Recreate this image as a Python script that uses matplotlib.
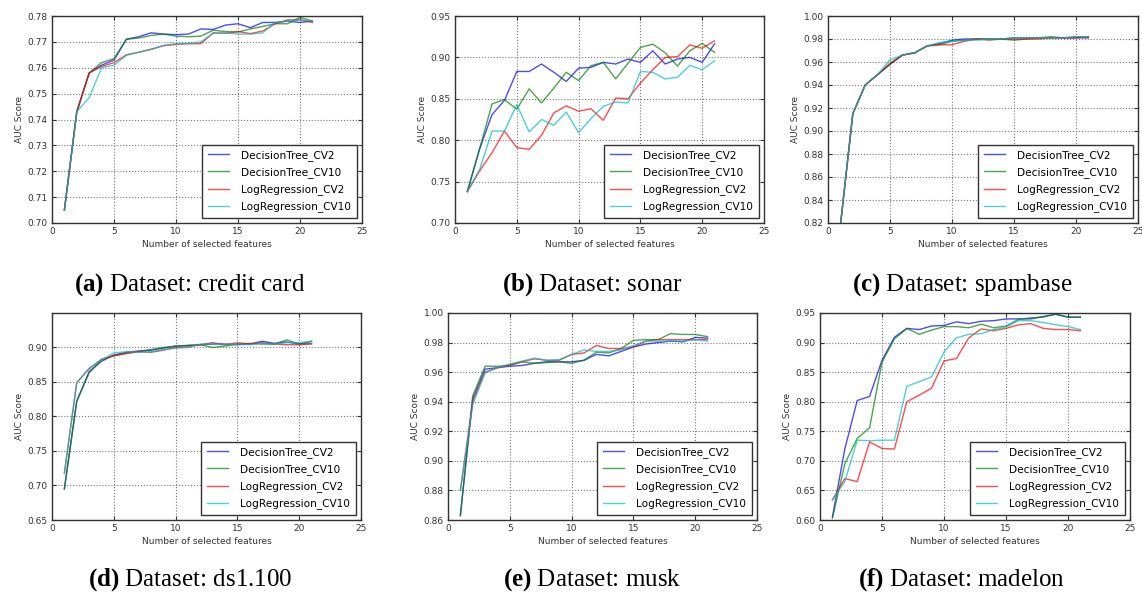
import matplotlib
matplotlib.use("Agg")
import matplotlib.pyplot as plt

x = list(range(1, 22))
series_names = ["DecisionTree_CV2", "DecisionTree_CV10", "LogRegression_CV2", "LogRegression_CV10"]

# (a) credit card
credit_dt2 = [0.705, 0.743, 0.758, 0.761, 0.763, 0.771, 0.772, 0.7735, 0.773, 0.7728, 0.773,
              0.775, 0.7748, 0.7765, 0.777, 0.7755, 0.7775, 0.7775, 0.778, 0.7775, 0.778]
credit_dt10 = [0.705, 0.743, 0.758, 0.762, 0.7635, 0.771, 0.7715, 0.7725, 0.773, 0.7722, 0.772,
               0.7722, 0.7745, 0.774, 0.7738, 0.775, 0.776, 0.777, 0.777, 0.7795, 0.778]
credit_lr2 = [0.705, 0.743, 0.758, 0.7605, 0.762, 0.765, 0.766, 0.7672, 0.7685, 0.769, 0.7693,
              0.7693, 0.7735, 0.7733, 0.774, 0.7732, 0.7742, 0.777, 0.7785, 0.7785, 0.7775]
credit_lr10 = [0.705, 0.743, 0.7485, 0.760, 0.761, 0.7648, 0.766, 0.767, 0.7687, 0.7693, 0.7695,
               0.770, 0.7733, 0.7735, 0.773, 0.773, 0.7735, 0.7775, 0.778, 0.7785, 0.778]

# (b) sonar
sonar_dt2 = [0.738, 0.79, 0.831, 0.848, 0.883, 0.883, 0.892, 0.882, 0.871, 0.887, 0.888,
             0.894, 0.892, 0.898, 0.894, 0.908, 0.892, 0.898, 0.900, 0.894, 0.9165]
sonar_dt10 = [0.738, 0.79, 0.844, 0.849, 0.8375, 0.862, 0.845, 0.863, 0.882, 0.872, 0.890,
              0.894, 0.874, 0.893, 0.912, 0.916, 0.9056, 0.8895, 0.908, 0.917, 0.906]
sonar_lr2 = [0.738, 0.763, 0.785, 0.811, 0.791, 0.789, 0.806, 0.833, 0.8415, 0.835, 0.838,
             0.824, 0.851, 0.850, 0.869, 0.885, 0.900, 0.901, 0.915, 0.911, 0.920]
sonar_lr10 = [0.738, 0.765, 0.811, 0.811, 0.843, 0.810, 0.825, 0.818, 0.834, 0.809, 0.826,
              0.841, 0.846, 0.845, 0.883, 0.882, 0.874, 0.876, 0.8905, 0.885, 0.896]

# (c) spambase
spam_dt2 = [0.818, 0.915, 0.940, 0.949, 0.958, 0.966, 0.968, 0.974, 0.976, 0.979, 0.980,
            0.980, 0.980, 0.980, 0.981, 0.981, 0.981, 0.981, 0.981, 0.981, 0.981]
spam_dt10 = [0.818, 0.915, 0.940, 0.949, 0.958, 0.966, 0.968, 0.974, 0.975, 0.978, 0.979,
             0.980, 0.980, 0.980, 0.979, 0.980, 0.981, 0.982, 0.981, 0.982, 0.982]
spam_lr2 = [0.818, 0.915, 0.940, 0.949, 0.959, 0.966, 0.968, 0.974, 0.975, 0.975, 0.978,
            0.980, 0.979, 0.980, 0.980, 0.980, 0.980, 0.981, 0.981, 0.981, 0.982]
spam_lr10 = [0.818, 0.915, 0.940, 0.949, 0.962, 0.966, 0.968, 0.974, 0.977, 0.978, 0.979,
             0.979, 0.980, 0.980, 0.981, 0.981, 0.981, 0.981, 0.981, 0.982, 0.982]

# (d) ds1.100
ds1_dt2 = [0.695, 0.822, 0.865, 0.880, 0.889, 0.893, 0.895, 0.896, 0.899, 0.902, 0.903,
           0.904, 0.905, 0.905, 0.904, 0.905, 0.909, 0.906, 0.908, 0.905, 0.909]
ds1_dt10 = [0.695, 0.822, 0.863, 0.882, 0.888, 0.892, 0.894, 0.897, 0.900, 0.902, 0.903,
            0.904, 0.900, 0.902, 0.905, 0.906, 0.905, 0.905, 0.911, 0.905, 0.906]
ds1_lr2 = [0.718, 0.849, 0.869, 0.883, 0.888, 0.891, 0.894, 0.893, 0.896, 0.900, 0.901,
           0.904, 0.907, 0.904, 0.907, 0.905, 0.907, 0.905, 0.904, 0.904, 0.905]
ds1_lr10 = [0.718, 0.849, 0.870, 0.882, 0.892, 0.894, 0.893, 0.894, 0.897, 0.899, 0.900,
            0.905, 0.905, 0.904, 0.905, 0.904, 0.906, 0.905, 0.907, 0.907, 0.909]

# (e) musk
musk_dt2 = [0.863, 0.942, 0.962, 0.963, 0.964, 0.9645, 0.966, 0.967, 0.967, 0.967, 0.968,
            0.972, 0.971, 0.974, 0.977, 0.979, 0.980, 0.981, 0.9805, 0.9835, 0.983]
musk_dt10 = [0.863, 0.944, 0.964, 0.964, 0.9645, 0.967, 0.966, 0.9665, 0.967, 0.966, 0.968,
             0.9735, 0.973, 0.976, 0.9815, 0.982, 0.982, 0.986, 0.9855, 0.9855, 0.984]
musk_lr2 = [0.880, 0.940, 0.960, 0.963, 0.965, 0.967, 0.969, 0.968, 0.968, 0.972, 0.973,
            0.978, 0.976, 0.976, 0.977, 0.981, 0.982, 0.982, 0.982, 0.982, 0.982]
musk_lr10 = [0.880, 0.938, 0.9595, 0.963, 0.9655, 0.9675, 0.9695, 0.968, 0.9685, 0.972, 0.975,
             0.974, 0.974, 0.975, 0.978, 0.981, 0.981, 0.981, 0.981, 0.982, 0.981]

# (f) madelon
mad_dt2 = [0.605, 0.720, 0.802, 0.809, 0.870, 0.909, 0.924, 0.922, 0.928, 0.929, 0.935,
           0.932, 0.936, 0.937, 0.940, 0.940, 0.940, 0.944, 0.948, 0.943, 0.943]
mad_dt10 = [0.603, 0.695, 0.738, 0.756, 0.867, 0.906, 0.924, 0.914, 0.921, 0.927, 0.927,
            0.925, 0.931, 0.925, 0.928, 0.939, 0.942, 0.943, 0.948, 0.943, 0.943]
mad_lr2 = [0.634, 0.670, 0.665, 0.732, 0.721, 0.720, 0.800, 0.811, 0.823, 0.869, 0.873,
           0.908, 0.923, 0.920, 0.924, 0.930, 0.932, 0.924, 0.922, 0.922, 0.920]
mad_lr10 = [0.634, 0.665, 0.735, 0.734, 0.735, 0.735, 0.826, 0.834, 0.842, 0.884, 0.908,
            0.914, 0.915, 0.922, 0.926, 0.937, 0.937, 0.934, 0.930, 0.927, 0.922]

panels = [
    ("a", "credit card", [credit_dt2, credit_dt10, credit_lr2, credit_lr10], (0.70, 0.78), [0.70 + 0.01 * i for i in range(9)], "%.2f"),
    ("b", "sonar", [sonar_dt2, sonar_dt10, sonar_lr2, sonar_lr10], (0.70, 0.95), [0.70 + 0.05 * i for i in range(6)], "%.2f"),
    ("c", "spambase", [spam_dt2, spam_dt10, spam_lr2, spam_lr10], (0.82, 1.00), [0.82 + 0.02 * i for i in range(10)], "%.2f"),
    ("d", "ds1.100", [ds1_dt2, ds1_dt10, ds1_lr2, ds1_lr10], (0.65, 0.95), [0.65 + 0.05 * i for i in range(6)], "%.2f"),
    ("e", "musk", [musk_dt2, musk_dt10, musk_lr2, musk_lr10], (0.86, 1.00), [0.86 + 0.02 * i for i in range(8)], "%.2f"),
    ("f", "madelon", [mad_dt2, mad_dt10, mad_lr2, mad_lr10], (0.60, 0.95), [0.60 + 0.05 * i for i in range(8)], "%.2f"),
]

colors = ["#0000ff", "#008000", "#ff0000", "#00bfbf"]

W, H = 1142, 595
# axes boxes in pixels: left, top, right, bottom
boxes = [(52, 16, 362, 223), (455, 16, 764, 223), (828, 16, 1138, 223),
         (52, 313, 361, 520), (448, 313, 757, 520), (820, 313, 1130, 520)]
caption_pos = [(190, 285), (592, 285), (962, 285), (190, 580), (592, 580), (962, 580)]

plt.rcParams["mathtext.fontset"] = "custom"
plt.rcParams["mathtext.rm"] = "Liberation Serif"
plt.rcParams["mathtext.bf"] = "Liberation Serif:bold"

fig = plt.figure(figsize=(W / 100, H / 100), dpi=100)
fig.patch.set_facecolor("white")

for (letter, name, ys, ylim, yticks, fmt), (l, t, r, b), (cx, cy) in zip(panels, boxes, caption_pos):
    ax = fig.add_axes([l / W, 1 - b / H, (r - l) / W, (b - t) / H])
    for y, c, lab in zip(ys, colors, series_names):
        ax.plot(x, y, color=c, alpha=0.7, lw=1.0, label=lab)
    ax.set_xlim(0, 25)
    ax.set_ylim(*ylim)
    ax.set_xticks([0, 5, 10, 15, 20, 25])
    ax.set_yticks(yticks)
    ax.set_yticklabels([fmt % v for v in yticks])
    ax.grid(True, linestyle=":", color="#777777", lw=0.8)
    ax.tick_params(direction="in", length=3, labelsize=6.5, colors="#333333",
                   top=True, right=True, pad=3)
    for sp in ax.spines.values():
        sp.set_color("#333333")
        sp.set_linewidth(1.0)
    ax.set_xlabel("Number of selected features", fontsize=6.5, color="#333333", labelpad=3)
    ax.set_ylabel("AUC Score", fontsize=6.5, color="#333333", labelpad=3)
    leg = ax.legend(loc="lower right", fontsize=7.6, fancybox=False, framealpha=1,
                    edgecolor="#333333", borderpad=0.5, labelspacing=0.6, handlelength=2.0,
                    handletextpad=1.2, borderaxespad=0.5)
    leg.get_frame().set_linewidth(1.0)
    fig.text(cx / W, 1 - cy / H, r"$\bf{(" + letter + r")}$ Dataset: " + name,
             family="Liberation Serif", fontsize=18, ha="center", va="center")

fig.savefig("out.png", dpi=100, facecolor="white")
